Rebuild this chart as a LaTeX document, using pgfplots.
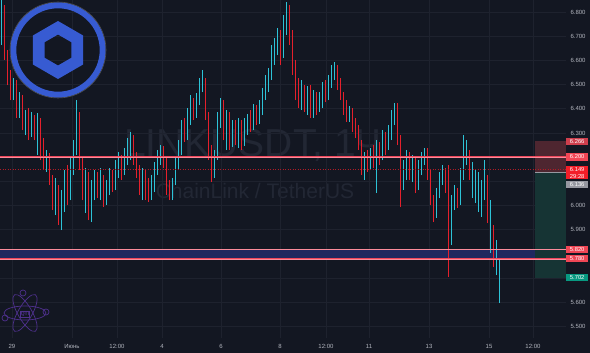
\documentclass[border=0pt]{standalone}
\usepackage{pgfplots}
\pgfplotsset{compat=1.18}
\usepackage{pgfplotstable}
\usepackage{fontspec}
\setmainfont{Liberation Sans}
\definecolor{bg}{RGB}{19,23,34}
\definecolor{gridc}{RGB}{30,34,46}
\definecolor{upc}{RGB}{45,195,215}
\definecolor{dnc}{RGB}{228,32,44}
\definecolor{wm}{RGB}{34,39,52}
\definecolor{lvl}{RGB}{238,70,90}
\definecolor{lvllight}{RGB}{250,140,155}
\definecolor{band}{RGB}{32,40,95}
\definecolor{lblred}{RGB}{240,70,85}
\definecolor{curred}{RGB}{242,30,40}
\definecolor{lblgrey}{RGB}{150,152,161}
\definecolor{lblteal}{RGB}{8,153,129}
\definecolor{zred}{RGB}{78,38,48}
\definecolor{zgreen}{RGB}{22,52,52}
\definecolor{clblue}{RGB}{55,91,210}
\definecolor{atom}{RGB}{78,48,140}
\definecolor{ticktxt}{RGB}{178,181,190}

\pgfplotstableread{
x o h l c d
1.5 6.684 6.870 6.664 6.829 1
4.5 6.817 6.829 6.602 6.622 0
7.5 6.622 6.643 6.498 6.540 0
10.5 6.540 6.560 6.436 6.478 0
13.5 6.469 6.527 6.436 6.511 1
16.5 6.511 6.519 6.362 6.395 0
19.5 6.395 6.469 6.362 6.436 1
22.5 6.436 6.457 6.312 6.333 0
25.5 6.333 6.395 6.292 6.374 1
28.5 6.374 6.403 6.271 6.312 0
31.5 6.312 6.387 6.284 6.362 1
34.5 6.362 6.374 6.271 6.292 0
37.5 6.292 6.383 6.209 6.354 1
40.5 6.354 6.362 6.188 6.250 0
43.5 6.250 6.279 6.147 6.168 0
46.5 6.168 6.230 6.139 6.197 1
49.5 6.197 6.217 6.085 6.106 0
52.5 6.106 6.126 5.982 6.023 0
55.5 6.023 6.114 5.961 6.064 1
58.5 6.064 6.085 5.920 5.961 0
61.5 5.961 6.064 5.899 6.023 1
64.5 6.023 6.147 5.974 6.106 1
67.5 6.106 6.168 6.002 6.044 0
70.5 6.044 6.197 6.023 6.147 1
73.5 6.147 6.271 6.126 6.230 1
76.5 6.230 6.436 6.209 6.374 1
79.5 6.374 6.387 6.147 6.168 0
82.5 6.168 6.197 6.023 6.085 0
85.5 6.085 6.155 5.970 6.126 1
88.5 6.126 6.139 5.940 5.982 0
91.5 5.982 6.106 5.932 6.044 1
94.5 6.044 6.147 6.023 6.106 1
97.5 6.106 6.139 6.031 6.064 0
100.5 6.064 6.155 6.023 6.114 1
103.5 6.114 6.126 5.994 6.023 0
106.5 6.023 6.106 6.002 6.073 1
109.5 6.073 6.155 6.044 6.126 1
112.5 6.126 6.147 6.056 6.085 0
115.5 6.085 6.188 6.064 6.155 1
118.5 6.155 6.221 6.114 6.197 1
121.5 6.197 6.209 6.106 6.147 0
124.5 6.147 6.238 6.126 6.209 1
127.5 6.209 6.279 6.168 6.250 1
130.5 6.250 6.304 6.188 6.271 1
133.5 6.271 6.292 6.168 6.188 0
136.5 6.188 6.221 6.114 6.139 0
139.5 6.139 6.168 6.044 6.085 0
142.5 6.085 6.155 6.023 6.126 1
145.5 6.126 6.147 6.023 6.064 0
148.5 6.064 6.114 6.015 6.044 0
151.5 6.044 6.126 6.023 6.098 1
154.5 6.098 6.180 6.056 6.147 1
157.5 6.147 6.230 6.126 6.197 1
160.5 6.197 6.250 6.168 6.230 1
163.5 6.230 6.246 6.155 6.188 0
166.5 6.188 6.205 6.044 6.085 0
169.5 6.085 6.106 6.023 6.044 0
172.5 6.044 6.114 6.023 6.098 1
175.5 6.098 6.197 6.085 6.168 1
178.5 6.168 6.271 6.147 6.238 1
181.5 6.238 6.354 6.209 6.312 1
184.5 6.312 6.362 6.263 6.292 0
187.5 6.292 6.403 6.271 6.374 1
190.5 6.374 6.457 6.333 6.416 1
193.5 6.416 6.445 6.354 6.395 0
196.5 6.395 6.465 6.362 6.436 1
199.5 6.436 6.527 6.416 6.498 1
202.5 6.498 6.560 6.469 6.519 1
205.5 6.519 6.527 6.354 6.374 0
208.5 6.374 6.387 6.188 6.230 0
211.5 6.230 6.250 6.098 6.139 0
214.5 6.139 6.230 6.114 6.209 1
217.5 6.209 6.387 6.188 6.354 1
220.5 6.354 6.445 6.321 6.416 1
223.5 6.416 6.436 6.271 6.312 0
226.5 6.312 6.395 6.230 6.362 1
229.5 6.362 6.387 6.230 6.271 0
232.5 6.271 6.354 6.242 6.321 1
235.5 6.321 6.354 6.250 6.292 0
238.5 6.292 6.362 6.238 6.333 1
241.5 6.333 6.354 6.230 6.263 0
244.5 6.263 6.362 6.246 6.321 1
247.5 6.321 6.379 6.292 6.354 1
250.5 6.354 6.395 6.304 6.333 0
253.5 6.333 6.420 6.312 6.395 1
256.5 6.395 6.416 6.333 6.362 0
259.5 6.362 6.436 6.337 6.403 1
262.5 6.403 6.486 6.374 6.457 1
265.5 6.457 6.540 6.436 6.498 1
268.5 6.498 6.569 6.469 6.540 1
271.5 6.540 6.664 6.519 6.622 1
274.5 6.622 6.693 6.581 6.664 1
277.5 6.664 6.734 6.622 6.717 1
280.5 6.717 6.726 6.581 6.622 0
283.5 6.622 6.788 6.610 6.734 1
286.5 6.734 6.841 6.705 6.808 1
289.5 6.808 6.829 6.664 6.705 0
292.5 6.705 6.726 6.540 6.581 0
295.5 6.581 6.602 6.436 6.498 0
298.5 6.498 6.527 6.403 6.436 0
301.5 6.436 6.519 6.395 6.478 1
304.5 6.478 6.498 6.387 6.416 0
307.5 6.416 6.494 6.374 6.457 1
310.5 6.457 6.498 6.362 6.395 0
313.5 6.395 6.478 6.362 6.445 1
316.5 6.445 6.469 6.374 6.403 0
319.5 6.403 6.469 6.387 6.436 1
322.5 6.436 6.511 6.403 6.478 1
325.5 6.478 6.519 6.428 6.457 0
328.5 6.457 6.540 6.436 6.519 1
331.5 6.519 6.581 6.486 6.552 1
334.5 6.552 6.593 6.519 6.569 1
337.5 6.569 6.581 6.478 6.511 0
340.5 6.511 6.527 6.436 6.457 0
343.5 6.457 6.469 6.374 6.403 0
346.5 6.403 6.436 6.346 6.374 0
349.5 6.374 6.412 6.346 6.387 1
352.5 6.387 6.403 6.304 6.333 0
355.5 6.333 6.362 6.279 6.312 0
358.5 6.312 6.333 6.230 6.250 0
361.5 6.250 6.271 6.126 6.168 0
364.5 6.168 6.221 6.106 6.197 1
367.5 6.197 6.230 6.139 6.168 0
370.5 6.168 6.238 6.147 6.221 1
373.5 6.221 6.250 6.155 6.188 0
376.5 6.188 6.271 6.052 6.230 1
379.5 6.230 6.263 6.168 6.197 0
382.5 6.197 6.312 6.188 6.271 1
385.5 6.271 6.304 6.209 6.238 0
388.5 6.238 6.333 6.230 6.304 1
391.5 6.304 6.395 6.271 6.362 1
394.5 6.362 6.424 6.333 6.416 1
397.5 6.416 6.424 6.250 6.271 0
400.5 6.271 6.292 5.994 6.085 0
403.5 6.085 6.188 6.064 6.147 1
406.5 6.147 6.230 6.106 6.188 1
409.5 6.188 6.221 6.106 6.126 0
412.5 6.126 6.209 6.098 6.180 1
415.5 6.180 6.197 6.052 6.085 0
418.5 6.085 6.188 6.064 6.155 1
421.5 6.155 6.221 6.126 6.197 1
424.5 6.197 6.238 6.168 6.230 1
427.5 6.230 6.238 6.106 6.126 0
430.5 6.126 6.147 6.002 6.023 0
433.5 6.023 6.044 5.932 5.961 0
436.5 5.961 6.073 5.949 6.044 1
439.5 6.044 6.139 6.031 6.106 1
442.5 6.106 6.168 6.085 6.147 1
445.5 6.147 6.155 6.052 6.085 0
448.5 6.085 6.168 5.705 5.858 0
451.5 5.858 6.044 5.837 6.002 1
454.5 6.002 6.085 5.982 6.056 1
457.5 6.056 6.073 5.990 6.015 0
460.5 6.015 6.155 6.002 6.126 1
463.5 6.126 6.292 6.106 6.188 1
466.5 6.188 6.271 6.168 6.209 1
469.5 6.209 6.230 6.106 6.147 0
472.5 6.147 6.180 6.031 6.085 1
475.5 6.085 6.147 6.011 6.114 1
478.5 6.114 6.139 5.974 6.044 1
481.5 6.044 6.106 5.953 6.064 1
484.5 6.064 6.188 6.023 6.114 1
487.5 6.114 6.126 5.928 6.002 0
490.5 6.002 6.023 5.804 5.899 1
493.5 5.899 5.920 5.746 5.816 0
496.5 5.816 5.858 5.713 5.767 1
499.5 5.767 5.784 5.597 5.672 1
}\candles

\pgfplotsset{
  candlebar/.style 2 args={color=#1, draw=none, mark=none, forget plot,
    error bars/y dir=plus, error bars/y explicit, error bars/error mark=none,
    error bars/error bar style={line width=#2, draw=#1, line cap=butt, solid}},
}

\begin{document}
\begin{tikzpicture}[x=1pt,y=1pt]
\useasboundingbox (0,0) rectangle (590,353);
\fill[bg] (0,0) rectangle (590,353);
% watermark
\node[anchor=base, text=wm, font=\fontsize{39}{39}\selectfont, inner sep=0pt] at (253,196) {LINKUSDT, 1Ч};
\node[anchor=base, text=wm, font=\fontsize{21}{21}\selectfont, inner sep=0pt] at (255,154) {ChainLink / TetherUS};

\begin{axis}[
  at={(0pt,15pt)}, anchor=south west,
  scale only axis, width=566pt, height=338pt,
  xmin=0, xmax=566, ymin=5.4529, ymax=6.8496,
  axis line style={draw=none}, tick style={draw=none},
  major tick length=0pt,
  grid=major, major grid style={draw=gridc, line width=0.6pt},
  xtick={12,72,117,162,221,280,326,369,429,489,533},
  xticklabels={29,Июнь,12:00,4,6,8,12:00,11,13,15,12:00},
  ytick={5.5,5.6,5.7,5.8,5.9,6.0,6.1,6.2,6.3,6.4,6.5,6.6,6.7,6.8},
  yticklabels={5.500,5.600,,,5.900,6.000,,,6.300,6.400,6.500,6.600,6.700,6.800},
  yticklabel pos=right,
  tick label style={font=\fontsize{6}{7}\selectfont, text=ticktxt},
  yticklabel style={anchor=west, xshift=1pt},
  xticklabel style={yshift=-3pt},
]
% support band
\addplot[fill=band, draw=none, forget plot] coordinates {(0,5.78) (566,5.78) (566,5.82) (0,5.82)} -- cycle;
% position tool zones
\addplot[fill=zred, draw=none, forget plot] coordinates {(535,6.136) (566,6.136) (566,6.266) (535,6.266)} -- cycle;
\addplot[fill=zgreen, draw=none, forget plot] coordinates {(535,5.702) (566,5.702) (566,6.136) (535,6.136)} -- cycle;
\addplot[draw=lblgrey, line width=0.6pt, forget plot] coordinates {(535,6.136) (566,6.136)};
% candles: wicks (low -> high)
\addplot[candlebar={upc}{0.6pt}, restrict expr to domain={\thisrow{d}}{0.5:1.5}]
  table[x=x, y=l, y error expr={\thisrow{h}-\thisrow{l}}] {\candles};
\addplot[candlebar={dnc}{0.6pt}, restrict expr to domain={\thisrow{d}}{-0.5:0.5}]
  table[x=x, y=l, y error expr={\thisrow{h}-\thisrow{l}}] {\candles};
% candles: bodies (min(open,close) -> max(open,close))
\addplot[candlebar={upc}{1.4pt}, restrict expr to domain={\thisrow{d}}{0.5:1.5}]
  table[x=x, y expr={min(\thisrow{o},\thisrow{c})}, y error expr={abs(\thisrow{o}-\thisrow{c})}] {\candles};
\addplot[candlebar={dnc}{1.4pt}, restrict expr to domain={\thisrow{d}}{-0.5:0.5}]
  table[x=x, y expr={min(\thisrow{o},\thisrow{c})}, y error expr={abs(\thisrow{o}-\thisrow{c})}] {\candles};
% levels
\addplot[draw=lvl, line width=1.6pt, forget plot] coordinates {(0,6.2) (566,6.2)};
\addplot[draw=lvllight, line width=0.4pt, forget plot] coordinates {(0,6.2) (566,6.2)};
\addplot[draw=lvl, line width=1.3pt, forget plot] coordinates {(0,5.82) (566,5.82)};
\addplot[draw=lvllight, line width=0.4pt, forget plot] coordinates {(0,5.82) (566,5.82)};
\addplot[draw=lvl, line width=1.3pt, forget plot] coordinates {(0,5.78) (566,5.78)};
\addplot[draw=lvllight, line width=0.4pt, forget plot] coordinates {(0,5.78) (566,5.78)};
\addplot[draw=curred!70!bg, line width=0.5pt, dotted, forget plot] coordinates {(0,6.149) (566,6.149)};
\end{axis}

% Chainlink logo
\begin{scope}[shift={(58,303)}]
\draw[clblue, line width=6pt] (0,0) circle (44.7pt);
\draw[gray!55!bg, line width=0.6pt] (0,0) circle (48pt);
\fill[clblue, even odd rule]
  (90:29pt) -- (150:29pt) -- (210:29pt) -- (270:29pt) -- (330:29pt) -- (30:29pt) -- cycle
  (90:15.5pt) -- (150:15.5pt) -- (210:15.5pt) -- (270:15.5pt) -- (330:15.5pt) -- (30:15.5pt) -- cycle;
\end{scope}

% atom watermark
\begin{scope}[shift={(25,40)}, line width=0.7pt, draw=atom]
  \draw (0,0) ellipse [x radius=21pt, y radius=7pt];
  \draw[rotate=60] (0,0) ellipse [x radius=21pt, y radius=7pt];
  \draw[rotate=120] (0,0) ellipse [x radius=21pt, y radius=7pt];
  \draw (-2,20) circle (3pt);
  \draw (-20,-5) circle (3pt);
  \draw (21,1) circle (3pt);
  \node[text=atom, font=\fontsize{5}{5}\selectfont\bfseries, inner sep=0.5pt, draw=atom, line width=0.4pt] at (0,-1) {QTI};
\end{scope}

% right price labels
\tikzset{plbl/.style={minimum width=22pt, inner sep=0pt, text=white, font=\fontsize{5.8}{6}\selectfont, anchor=west}}
\node[plbl, fill=lblred!85!bg, minimum height=7.5pt] at (566,211.5) {6.266};
\node[plbl, fill=lblred, minimum height=7.5pt] at (566,196) {6.200};
\node[plbl, fill=curred, minimum height=13pt, align=center, font=\fontsize{5.8}{6.2}\selectfont] at (566,180) {6.149\\29:28};
\node[plbl, fill=lblgrey, minimum height=7.5pt] at (566,168.5) {6.136};
\node[plbl, fill=lblred, minimum height=7.5pt] at (566,103.7) {5.820};
\node[plbl, fill=lblred, minimum height=7.5pt] at (566,94.7) {5.780};
\node[plbl, fill=lblteal, minimum height=7.5pt] at (566,75.5) {5.702};
\end{tikzpicture}
\end{document}
